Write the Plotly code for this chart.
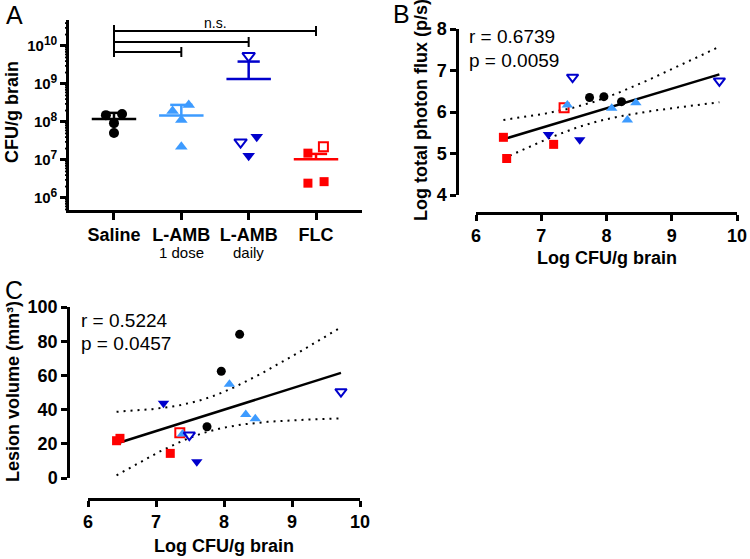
import numpy as np
import plotly.graph_objects as go

FONT = 'Liberation Sans, Arial, sans-serif'
W, H = 750, 559
BLACK, LIGHT, DARK, RED = '#000000', '#3d9bff', '#0000cc', '#ff0000'

# ---------------- panel A: log10 CFU/g brain per mouse
group_ticks = ['<b>Saline</b>', '<b>L-AMB</b>', '<b>L-AMB</b>', '<b>FLC</b>']
group_sub = ['', '1 dose', 'daily', '']
a_saline = [8.18, 8.21, 7.97, 7.71]
a_lamb1 = [8.29, 8.45, 8.05, 7.35]
a_daily = [9.74, 7.47, 7.61, 7.11]
a_daily_open = [True, True, False, False]
a_flc = [7.18, 7.35, 6.39, 6.43]
a_flc_open = [False, True, False, False]
a_mean = [8.08, 8.17, 9.13, 7.02]      # group mean (log10)
a_sem_top = [8.24, 8.45, 9.59, 7.16]   # mean + SEM (log10)

# ---------------- panel B: log CFU vs log photon flux
b_red_x = [6.42, 7.19, 6.47, 7.35]
b_red_y = [5.39, 5.22, 4.88, 6.10]
b_red_open = [False, False, False, True]
b_light_x = [7.40, 8.08, 8.45, 8.32]
b_light_y = [6.17, 6.09, 6.22, 5.81]
b_black_x = [7.74, 7.96, 8.23]
b_black_y = [6.35, 6.37, 6.25]
b_dark_x = [7.11, 7.59, 7.48, 9.73]
b_dark_y = [5.46, 5.33, 6.84, 6.75]
b_dark_open = [False, False, True, True]

# ---------------- panel C: log CFU vs lesion volume
c_red_x = [6.42, 6.47, 7.21, 7.35]
c_red_y = [21.8, 23.2, 14.4, 26.5]
c_red_open = [False, False, False, True]
c_light_x = [8.08, 8.32, 8.46, 7.39]
c_light_y = [54.8, 37.2, 34.7, 25.7]
c_black_x = [8.23, 7.96, 7.75]
c_black_y = [84.0, 62.4, 30.0]
c_dark_x = [7.11, 7.60, 9.72, 7.49]
c_dark_y = [43.7, 9.5, 50.5, 25.1]
c_dark_open = [False, False, True, True]


def px(x):
    return x / W


def py(y):
    return 1 - y / H


def marker(sym, color, n, open_flags=None, size=10):
    if open_flags is None:
        open_flags = [False] * n
    return dict(symbol=[sym + '-open' if o else sym for o in open_flags],
                size=size, color=color,
                line=dict(color=color, width=[2 if o else 0 for o in open_flags]))


fig = go.Figure()

# panel A points
jitter = [[-0.12, 0.12, 0, 0], [-0.13, 0.11, 0, 0], [0, -0.12, 0.12, 0], [-0.12, 0.11, -0.12, 0.12]]
a_sets = [(a_saline, 'circle', BLACK, None, 10),
          (a_lamb1, 'triangle-up', LIGHT, None, 11),
          (a_daily, 'triangle-down', DARK, a_daily_open, 11),
          (a_flc, 'square', RED, a_flc_open, 9)]
for i, (vals, sym, col, op, sz) in enumerate(a_sets):
    fig.add_trace(go.Scatter(
        x=[i + j for j in jitter[i]], y=[10 ** v for v in vals],
        mode='markers', marker=marker(sym, col, len(vals), op, sz),
        xaxis='x', yaxis='y', showlegend=False))
    m, u = 10 ** a_mean[i], 10 ** a_sem_top[i]
    fig.add_trace(go.Scatter(
        x=[i - 0.33, i + 0.33, None, i, i, None, i - 0.165, i + 0.165],
        y=[m, m, None, m, u, None, u, u],
        mode='lines', line=dict(color=col, width=2.5),
        xaxis='x', yaxis='y', showlegend=False))

shapes = []
# significance brackets (panel A)
shapes.append(dict(type='line', xref='x', yref='paper', x0=0, x1=0, y0=py(25), y1=py(57),
                   line=dict(color='black', width=2)))
for right, yy in [(3, 31), (2, 42), (1, 52)]:
    shapes.append(dict(type='line', xref='x', yref='paper', x0=0, x1=right, y0=py(yy), y1=py(yy),
                       line=dict(color='black', width=2)))
    shapes.append(dict(type='line', xref='x', yref='paper', x0=right, x1=right,
                       y0=py(yy - 5), y1=py(yy + 5), line=dict(color='black', width=2)))

# minor log ticks on the panel A y axis
A_YDOM = [py(210), py(20)]
A_YRANGE = [5.684, 10.684]
for e in range(5, 11):
    for k in range(2, 10):
        lv = np.log10(k * 10 ** e)
        if A_YRANGE[0] <= lv <= A_YRANGE[1]:
            yp = A_YDOM[0] + (lv - A_YRANGE[0]) / (A_YRANGE[1] - A_YRANGE[0]) * (A_YDOM[1] - A_YDOM[0])
            shapes.append(dict(type='line', xref='paper', yref='paper', x0=px(65), x1=px(69),
                               y0=yp, y1=yp, line=dict(color='black', width=1.8)))


def add_regression(xs, ys, xa, ya):
    xs, ys = np.array(xs), np.array(ys)
    n = len(xs)
    slope, icpt = np.polyfit(xs, ys, 1)
    resid = ys - (slope * xs + icpt)
    s = np.sqrt(np.sum(resid ** 2) / (n - 2))
    t = 2.1604  # t(0.975, df=13)
    xg = np.linspace(xs.min(), xs.max(), 120)
    fit = slope * xg + icpt
    half = t * s * np.sqrt(1 / n + (xg - xs.mean()) ** 2 / np.sum((xs - xs.mean()) ** 2))
    for band in (fit + half, fit - half):
        fig.add_trace(go.Scatter(x=xg, y=band, mode='lines',
                                 line=dict(color='black', width=2, dash='2px,5px'),
                                 xaxis=xa, yaxis=ya, showlegend=False))
    fig.add_trace(go.Scatter(x=xg, y=fit, mode='lines', line=dict(color='black', width=2.5),
                             xaxis=xa, yaxis=ya, showlegend=False))


def add_scatter_panel(sets, xa, ya):
    allx, ally = [], []
    for xs, ys, sym, col, op, sz in sets:
        allx += xs
        ally += ys
    add_regression(allx, ally, xa, ya)
    for xs, ys, sym, col, op, sz in sets:
        fig.add_trace(go.Scatter(x=xs, y=ys, mode='markers',
                                 marker=marker(sym, col, len(xs), op, sz),
                                 xaxis=xa, yaxis=ya, showlegend=False))


add_scatter_panel([(b_red_x, b_red_y, 'square', RED, b_red_open, 9),
                   (b_light_x, b_light_y, 'triangle-up', LIGHT, None, 10),
                   (b_black_x, b_black_y, 'circle', BLACK, None, 9),
                   (b_dark_x, b_dark_y, 'triangle-down', DARK, b_dark_open, 10)], 'x2', 'y2')
add_scatter_panel([(c_red_x, c_red_y, 'square', RED, c_red_open, 9),
                   (c_light_x, c_light_y, 'triangle-up', LIGHT, None, 10),
                   (c_black_x, c_black_y, 'circle', BLACK, None, 9),
                   (c_dark_x, c_dark_y, 'triangle-down', DARK, c_dark_open, 10)], 'x3', 'y3')

axis_common = dict(showline=True, linecolor='black', linewidth=2.5, ticks='outside',
                   ticklen=6, tickwidth=2.5, tickcolor='black', showgrid=False, zeroline=False,
                   automargin=False,
                   tickfont=dict(family=FONT, size=18, color='black', weight='bold'))

fig.update_layout(
    template='none',
    width=W, height=H, margin=dict(l=0, r=0, t=0, b=0, pad=0, autoexpand=False),
    plot_bgcolor='white', paper_bgcolor='white',
    font=dict(family=FONT, color='black'),
    xaxis=dict(axis_common, domain=[px(69), px(362)], range=[-0.668, 3.683],
               tickvals=[0, 1, 2, 3], ticktext=group_ticks, ticklen=7, anchor='y'),
    yaxis=dict(axis_common, type='log', domain=A_YDOM, range=A_YRANGE,
               tickvals=[1e6, 1e7, 1e8, 1e9, 1e10],
               ticktext=['10<sup><span style="font-size:12px">%d</span></sup>' % e
                         for e in range(6, 11)], anchor='x',
               tickfont=dict(family=FONT, size=15, color='black', weight='bold')),
    xaxis2=dict(axis_common, domain=[px(476), px(737)], range=[6, 10], dtick=1,
                anchor='free', position=py(213)),
    yaxis2=dict(axis_common, domain=[py(195), py(29)], range=[4, 8], dtick=1,
                anchor='free', position=px(457)),
    xaxis3=dict(axis_common, domain=[px(88), px(360)], range=[6, 10], dtick=1,
                anchor='free', position=py(499)),
    yaxis3=dict(axis_common, domain=[py(478), py(307)], range=[0, 100], dtick=20,
                anchor='free', position=px(68)),
    shapes=shapes,
)


def note(text, x, y, size=18, bold=False, angle=0, xanchor='center'):
    fig.add_annotation(text=text, x=px(x), y=py(y), xref='paper', yref='paper',
                       showarrow=False, textangle=angle, xanchor=xanchor, yanchor='middle',
                       font=dict(family=FONT, size=size, color='black',
                                 weight='bold' if bold else 'normal'))


for i, sub in enumerate(group_sub):
    if sub:
        fig.add_annotation(text=sub, x=i, y=py(252), xref='x', yref='paper', showarrow=False,
                           yanchor='middle', font=dict(family=FONT, size=15, color='black'))

note('A', 4, 15, size=25, xanchor='left')
note('B', 391, 14, size=25, xanchor='left')
note('C', 3, 290, size=25, xanchor='left')
note('n.s.', 215, 23, size=14)
note('CFU/g brain', 12, 112, bold=True, angle=-90)
note('Log total photon flux (p/s)', 421, 110, bold=True, angle=-90)
note('Log CFU/g brain', 607, 258, bold=True)
note('Lesion volume (mm³)', 13, 392, bold=True, angle=-90)
note('Log CFU/g brain', 224, 546, bold=True)
note('r = 0.6739', 467, 37, size=19, xanchor='left')
note('p = 0.0059', 467, 60, size=19, xanchor='left')
note('r = 0.5224', 79, 320, size=19, xanchor='left')
note('p = 0.0457', 79, 343, size=19, xanchor='left')

# drop the default page margin so the figure sits at the window's top-left corner
fig.write_html('out.html', config={'displayModeBar': False},
               post_script="document.body.style.margin='0';"
                           "document.documentElement.style.overflow='hidden';")
